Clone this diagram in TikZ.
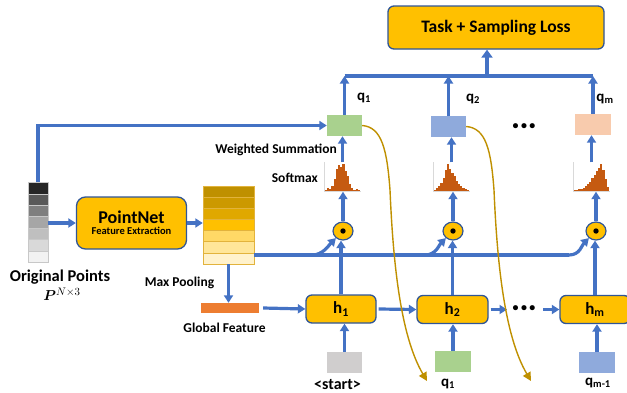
\documentclass[tikz,border=0pt]{standalone}
\usepackage{fontspec}
\usepackage{bm}
\setmainfont{Carlito}
\usetikzlibrary{arrows.meta,shapes.geometric,calc}
\definecolor{lineblue}{HTML}{4472C4}
\definecolor{boxorange}{HTML}{FFC000}
\definecolor{boxborder}{HTML}{2F5597}
\definecolor{goldc}{HTML}{BF9000}
\definecolor{histc}{HTML}{C55A11}
\definecolor{gfc}{HTML}{ED7D31}
\definecolor{qgreen}{HTML}{A9D18E}
\definecolor{qblue}{HTML}{8FAADC}
\definecolor{qpeach}{HTML}{F8CBAD}
\definecolor{qgray}{HTML}{D0CECE}
\definecolor{featborder}{HTML}{E2B33C}
\definecolor{cellgray}{HTML}{C8C8C8}
\newcommand{\histbars}[2]{%
  \foreach \hh [count=\i] in {#2} {
    \fill[histc] ($(#1.south west)+(\i*2.2-1.2,-1)$) rectangle ++(2.2,-\hh);
  }
  \draw[black!15, line width=0.5pt] (#1.north west) -- (#1.south west) -- (#1.south east);
}
\begin{document}
\begin{tikzpicture}[x=1pt,y=-1pt,
  blueline/.style={draw=lineblue, line width=3.2pt},
  barr/.style={blueline, -{Triangle[length=7.5pt,width=9pt]}},
  garr/.style={draw=goldc, line width=1.4pt, -{Triangle[length=8.5pt,width=8.5pt]}},
  obox/.style={rectangle, rounded corners=6pt, fill=boxorange, draw=boxborder, line width=1.3pt, inner sep=0pt},
  hbox/.style={obox, minimum height=28pt, font=\bfseries\fontsize{17}{19}\selectfont},
  qbox/.style={rectangle, minimum width=35pt, minimum height=21pt, inner sep=0pt},
  lbl/.style={font=\bfseries\fontsize{13.5}{15}\selectfont, inner sep=0pt},
  qlbl/.style={font=\bfseries\fontsize{15}{17}\selectfont, inner sep=0pt},
  odot/.style={ellipse, minimum width=20pt, minimum height=18pt, fill=boxorange, draw=boxborder, line width=1.2pt, inner sep=0pt},
  histf/.style={rectangle, minimum width=37pt, minimum height=29pt, inner sep=0pt},
  dots/.style={font=\bfseries\fontsize{12}{14}\selectfont, inner sep=0pt}
]
\useasboundingbox (0,0) rectangle (627,392);
\clip (0,0) rectangle (627,392);

% task box
\node[obox, minimum width=216pt, minimum height=43pt, font=\bfseries\fontsize{17.5}{19}\selectfont] (task) at (496,27.5) {Task + Sampling Loss};

% original points stack
\node[rectangle, minimum width=20pt, minimum height=80pt, inner sep=0pt] (orig) at (38,222.5) {};
\foreach \c [count=\i from 0] in {262626,595959,7F7F7F,A6A6A6,BFBFBF,D9D9D9,F2F2F2} {
  \definecolor{tmpc}{HTML}{\c}
  \filldraw[fill=tmpc, draw=cellgray, line width=0.6pt] (28,182.5+\i*11.43) rectangle ++(20,11.43);
}
\node[font=\bfseries\fontsize{16.5}{18}\selectfont, inner sep=0pt] (origlbl) at (60,277) {Original Points};
\node[font=\fontsize{15}{17}\selectfont, inner sep=0pt] (plbl) at (62,294) {$\bm{P}^{N\times 3}$};

% pointnet
\node[obox, minimum width=110pt, minimum height=52pt, rounded corners=9pt, align=center] (pn) at (131.5,223)
  {{\bfseries\fontsize{18}{20}\selectfont PointNet}\\[-1pt]{\bfseries\fontsize{10.5}{12}\selectfont Feature Extraction}};

% feature stack
\node[rectangle, minimum width=51pt, minimum height=78pt, inner sep=0pt] (feat) at (228.5,225) {};
\foreach \c [count=\i from 0] in {BF9000,CC9900,E0A800,FFC000,FFD966,FFE699,FFF2CC} {
  \definecolor{tmpc}{HTML}{\c}
  \filldraw[fill=tmpc, draw=featborder, line width=0.6pt] (203,186+\i*11.14) rectangle ++(51,11.14);
}

% global feature
\node[rectangle, fill=gfc, minimum width=58pt, minimum height=10pt, inner sep=0pt] (gf) at (230,308) {};
\node[lbl] (mplbl) at (179.5,283) {Max Pooling};
\node[lbl] (gflbl) at (224.5,328) {Global Feature};

% h boxes
\node[hbox, minimum width=70pt] (h1) at (341,309) {h\textsubscript{1}};
\node[hbox, minimum width=71pt] (h2) at (452.5,309.5) {h\textsubscript{2}};
\node[hbox, minimum width=70pt] (hm) at (595,309.5) {h\textsubscript{m}};
\node[dots] (hdots) at (524,309) {\textbullet\hspace{2.5pt}\textbullet\hspace{2.5pt}\textbullet};
\coordinate (hd1) at (507,309.5);
\coordinate (hd2) at (543,309.5);

% inputs
\node[qbox, fill=qgray] (st) at (344.5,362.5) {};
\node[qbox, fill=qgreen, minimum width=36pt] (in1) at (453,361.5) {};
\node[qbox, fill=qblue, minimum width=36pt] (inm) at (597,362.5) {};
\node[font=\bfseries\fontsize{16}{18}\selectfont, inner sep=0pt] (stlbl) at (337.5,384.5) {<start>};
\node[qlbl] (in1lbl) at (448,383.5) {q\textsubscript{1}};
\node[qlbl] (inmlbl) at (598,383) {q\textsubscript{m-1}};

% odots
\node[odot] (o1) at (343,231) {};
\node[odot] (o2) at (453,231) {};
\node[odot] (o3) at (596,231) {};
\foreach \o in {o1,o2,o3} { \fill (\o.center) circle[radius=2.7pt]; }

% histograms
\node[histf] (s1) at (342.5,177) {};
\node[histf] (s2) at (451.5,177) {};
\node[histf] (s3) at (591.5,177) {};
\histbars{s1}{1,3,2,5,12,22,26,24,27,20,15,7,3,1,2,1}
\histbars{s2}{1,3,5,8,13,21,27,22,18,15,10,7,5,3,2,1}
\histbars{s3}{1,1,2,2,3,5,7,9,13,16,20,23,27,21,12,4}
\node[lbl, anchor=east] (wslbl) at (337,150) {Weighted Summation};
\node[lbl, anchor=east] (smlbl) at (318,178) {Softmax};

% q boxes
\node[qbox, fill=qgreen] (q1) at (344.5,125.5) {};
\node[qbox, fill=qblue] (q2) at (448.5,126.5) {};
\node[qbox, fill=qpeach, minimum width=36pt] (qm) at (593,124.5) {};
\node[qlbl] (q1lbl) at (364,98) {q\textsubscript{1}};
\node[qlbl] (q2lbl) at (473,99) {q\textsubscript{2}};
\node[qlbl] (qmlbl) at (605,99) {q\textsubscript{m}};
\node[dots] (qdots) at (524,127) {\textbullet\hspace{2.5pt}\textbullet\hspace{2.5pt}\textbullet};

% top collector
\coordinate (tl) at (0,76);
\coordinate (tm) at (487,76);
\draw[blueline] (q1.north |- tl) -- (qm.north |- tl);
\draw[barr] (q1.north) -- (q1.north |- tl);
\draw[barr] (q2.north) -- (q2.north |- tl);
\draw[barr] (qm.north) -- (qm.north |- tl);
\draw[blueline, -{Triangle[length=8pt,width=11pt]}, line width=3.6pt] (tm) -- (tm |- task.south);

% left path
\draw[barr] (orig.north) |- (q1.west);
\draw[barr] (orig.east |- pn.west) -- (pn.west);
\draw[barr] (pn.east) -- (feat.west |- pn.east);
\draw[barr] (feat.south) -- (feat.south |- gf.north);
\draw[barr] ([xshift=4pt]gf.east) -- (h1.west);

% horizontal feature line & branches
\coordinate (hs) at (254,255);
\coordinate (b1) at (312,255);
\coordinate (b2) at (425,255);
\coordinate (b3) at (569,255);
\draw[blueline] (hs) -- (b3);
\foreach \b/\o in {b1/o1,b2/o2,b3/o3} {
  \draw[barr] (\b) .. controls +(11,0) and +(-7,7) .. (\o.225);
}

% columns
\foreach \h/\o/\s/\q in {h1/o1/s1/q1,h2/o2/s2/q2,hm/o3/s3/qm} {
  \draw[barr] (\h.north) -- (\h.north |- \o.south);
  \draw[barr] (\o.north) -- (\o.north |- \s.south);
  \draw[barr] (\s.north) -- (\s.north |- \q.south);
}

% h row
\draw[barr] ([xshift=2pt]h1.east) -- (h2.west);
\draw[barr] ([xshift=2pt]h2.east) -- (hd1);
\draw[barr] (hd2) -- (hm.west);

% inputs
\draw[barr] (st.north) -- (st.north |- h1.south);
\draw[barr] (in1.north) -- (in1.north |- h2.south);
\draw[barr] (inm.north) -- (inm.north |- hm.south);

% golden curves
\coordinate (g1) at (427,381);
\coordinate (g2) at (531,381);
\draw[garr] (q1.east) .. controls (382,127) and (387,150) .. (390,190) .. controls (393,260) and (400,335) .. (g1);
\draw[garr] (q2.east) .. controls (486,128) and (491,150) .. (494,190) .. controls (497,260) and (504,335) .. (g2);
\end{tikzpicture}
\end{document}
